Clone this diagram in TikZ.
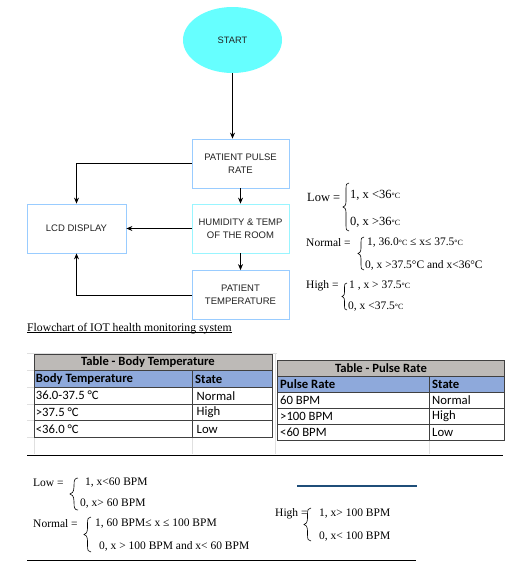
\documentclass[tikz,border=0pt]{standalone}
\usepackage{fontspec}
\setmainfont{Liberation Serif}
\newfontfamily\arialf{Liberation Sans}
\newfontfamily\calf{Carlito}
\usetikzlibrary{arrows.meta,shapes.geometric}
\definecolor{boxblue}{HTML}{99CCFF}
\definecolor{boxcyan}{HTML}{99F5FF}
\definecolor{startfill}{HTML}{66FFFF}
\definecolor{hdrblue}{HTML}{8EA9DB}
\definecolor{ttlgray}{HTML}{BDBAB7}
\definecolor{gridc}{HTML}{E0E0E0}
\definecolor{lineblue}{HTML}{1F4E79}
\definecolor{txtgray}{HTML}{222222}
\definecolor{tborder}{HTML}{404040}
\newcommand\mybrace[4]{%
 \pgfmathsetmacro\brX{(#1+#2)/2}%
 \pgfmathsetmacro\brM{(#3+#4)/2}%
 \pgfmathsetmacro\brW{#2-#1}%
 \draw[brc] (#2,#3) .. controls ({\brX+0.1*\brW},#3) and ({\brX},{#3+0.25*\brW}) .. ({\brX},{#3+0.9*\brW})
   -- ({\brX},{\brM-0.9*\brW}) .. controls ({\brX},{\brM-0.25*\brW}) and ({#1+0.2*\brW},\brM) .. (#1,\brM)
   .. controls ({#1+0.2*\brW},\brM) and ({\brX},{\brM+0.25*\brW}) .. ({\brX},{\brM+0.9*\brW})
   -- ({\brX},{#4-0.9*\brW}) .. controls ({\brX},{#4-0.25*\brW}) and ({\brX+0.1*\brW},#4) .. (#2,#4);}
\newcommand\sdeg{{\fontsize{8}{8}\selectfont °C}}
\begin{document}
\begin{tikzpicture}[x=1pt,y=-1pt,
  box/.style={draw=boxblue, line width=0.8pt, minimum width=97pt, minimum height=49pt, align=center, font=\arialf\fontsize{9.5}{12.6}\selectfont, text=txtgray, inner sep=1pt},
  arr/.style={-{Stealth[length=6pt,width=5pt]}, line width=0.8pt},
  brc/.style={line width=0.6pt},
  eqa/.style={anchor=west, inner sep=0pt, font=\fontsize{12.5}{12.5}\selectfont},
  eqb/.style={anchor=west, inner sep=0pt, font=\fontsize{11.5}{11.5}\selectfont},
  tt/.style={inner sep=0pt, font=\calf\bfseries\fontsize{12.6}{12.6}\selectfont},
  th/.style={anchor=west, inner sep=0pt, font=\calf\bfseries\fontsize{12.7}{12.7}\selectfont},
  td/.style={anchor=west, inner sep=0pt, font=\calf\fontsize{12.7}{12.7}\selectfont},
  tline/.style={draw=tborder, line width=0.6pt},
  grid/.style={draw=gridc, line width=0.6pt}]
\useasboundingbox[fill=white] (0,0) rectangle (521,570);

% ---- flowchart ----
\node[ellipse, fill=startfill, minimum width=99pt, minimum height=66pt, font=\arialf\fontsize{9.3}{10}\selectfont, text=txtgray] (start) at (232.5,40) {START};
\node[box] (pulse) at (240.5,163.5) {PATIENT PULSE\\RATE};
\node[box, draw=boxcyan] (humid) at (240.5,228.5) {HUMIDITY \& TEMP\\OF THE ROOM};
\node[box] (temp) at (240.5,295) {PATIENT\\TEMPERATURE};
\node[box, minimum width=99pt] (lcd) at (76.5,228.5) {LCD DISPLAY};
\draw[arr] (start.south) -- (start.south |- pulse.north);
\draw[arr] (pulse.south) -- (humid.north);
\draw[arr] (humid.south) -- (temp.north);
\draw[arr] (pulse.west) -| (lcd.north);
\draw[arr] (humid.west) -- (lcd.east);
\draw[arr] (temp.west) -| (lcd.south);
\node[anchor=base west, inner sep=0pt, font=\fontsize{11.7}{12}\selectfont] (cap) at (27,331) {Flowchart of IOT health monitoring system};
\draw[line width=0.6pt] ([yshift=-1.6pt]cap.base west) -- ([yshift=-1.6pt]cap.base east);

% ---- temperature equations ----
\node[eqa] (tlow) at (307,197) {Low =};
\mybrace{343}{349}{183}{231}
\node[eqa] (tlow1) at (350,195) {1, x <36\sdeg};
\node[eqa] (tlow0) at (350,222) {0, x >36\sdeg};
\node[eqb] (tnor) at (306,243) {Normal =};
\mybrace{358}{364}{237}{270}
\node[eqb] (tnor1) at (367,243) {1, 36.0\sdeg\ ≤ x≤ 37.5\sdeg};
\node[eqb] (tnor0) at (365,265) {0, x >37.5°C and x<36°C};
\node[eqb] (thig) at (306,286) {High =};
\mybrace{342}{347}{283}{310}
\node[eqb] (thig1) at (349,286) {1 , x > 37.5\sdeg};
\node[eqb] (thig0) at (348,307) {0, x <37.5\sdeg};

% ---- spreadsheet grid ----
\draw[grid] (27,353.3) -- (277,353.3);
\foreach \yy in {370.7,387.3,404,420.7,437.3} \draw[grid] (27,\yy) -- (34.3,\yy);
\draw[grid] (34.3,437.3) -- (34.3,454);
\draw[grid] (192.3,437.3) -- (192.3,454);
\draw[grid] (275,353.3) -- (275,454);
\draw[grid] (429,440) -- (429,454);

% ---- body temperature table ----
\fill[ttlgray] (34.3,354) rectangle (272.7,370.7);
\fill[hdrblue] (34.3,370.7) rectangle (272.7,387.3);
\draw[tline] (34.3,354) rectangle (272.7,437.3);
\foreach \yy in {370.7,387.3,404,420.7} \draw[tline] (34.3,\yy) -- (272.7,\yy);
\draw[tline] (192.3,370.7) -- (192.3,437.3);
\node[tt] (bt) at (148,362.3) {Table - Body Temperature};
\node[th] (bth1) at (35.7,379) {Body Temperature};
\node[th] (bth2) at (195,379) {State};
\node[td] (b11) at (35.7,395.7) {36.0-37.5 °C};
\node[td] (b12) at (196.5,395.7) {Normal};
\node[td] (b21) at (35.7,412.3) {>37.5 °C};
\node[td] (b22) at (196.5,412.3) {High};
\node[td] (b31) at (35.7,429) {<36.0 °C};
\node[td] (b32) at (196.5,429) {Low};

% ---- pulse rate table ----
\fill[ttlgray] (277.7,360) rectangle (504.3,376.7);
\fill[hdrblue] (277.7,376.7) rectangle (504.3,392.3);
\draw[tline] (277.7,360) rectangle (504.3,440);
\foreach \yy in {376.7,392.3,408.3,424.3} \draw[tline] (277.7,\yy) -- (504.3,\yy);
\draw[tline] (429,376.7) -- (429,440);
\node[tt] (pt) at (381,368.5) {Table - Pulse Rate};
\node[th] (pth1) at (280,384.5) {Pulse Rate};
\node[th] (pth2) at (432,384.5) {State};
\node[td] (p11) at (280,400.3) {60 BPM};
\node[td] (p12) at (432,400.3) {Normal};
\node[td] (p21) at (280,416.3) {>100 BPM};
\node[td] (p22) at (432,416.3) {High};
\node[td] (p31) at (280,432.2) {<60 BPM};
\node[td] (p32) at (432,432.2) {Low};

% ---- pulse equations ----
\draw[line width=0.9pt] (27,455) -- (503,455);
\draw[lineblue, line width=1.6pt] (297,486) -- (417,486);
\draw[line width=0.9pt] (27,560) -- (416,560);
\node[eqb] (plow) at (33,483) {Low =};
\mybrace{70}{78}{478}{510}
\node[eqb] (plow1) at (85,483) {1, x<60 BPM};
\node[eqb] (plow0) at (80,504) {0, x> 60 BPM};
\node[eqb] (pnor) at (33,524) {Normal =};
\mybrace{84}{91}{517}{552}
\node[eqb] (pnor1) at (95,524) {1, 60 BPM≤ x ≤ 100 BPM};
\node[eqb] (pnor0) at (99,546) {0, x > 100 BPM and x< 60 BPM};
\node[eqb] (phig) at (275,514) {High =};
\mybrace{304}{311}{508}{541}
\node[eqb] (phig1) at (319,514) {1, x> 100 BPM};
\node[eqb] (phig0) at (319,537) {0, x< 100 BPM};
\end{tikzpicture}
\end{document}
